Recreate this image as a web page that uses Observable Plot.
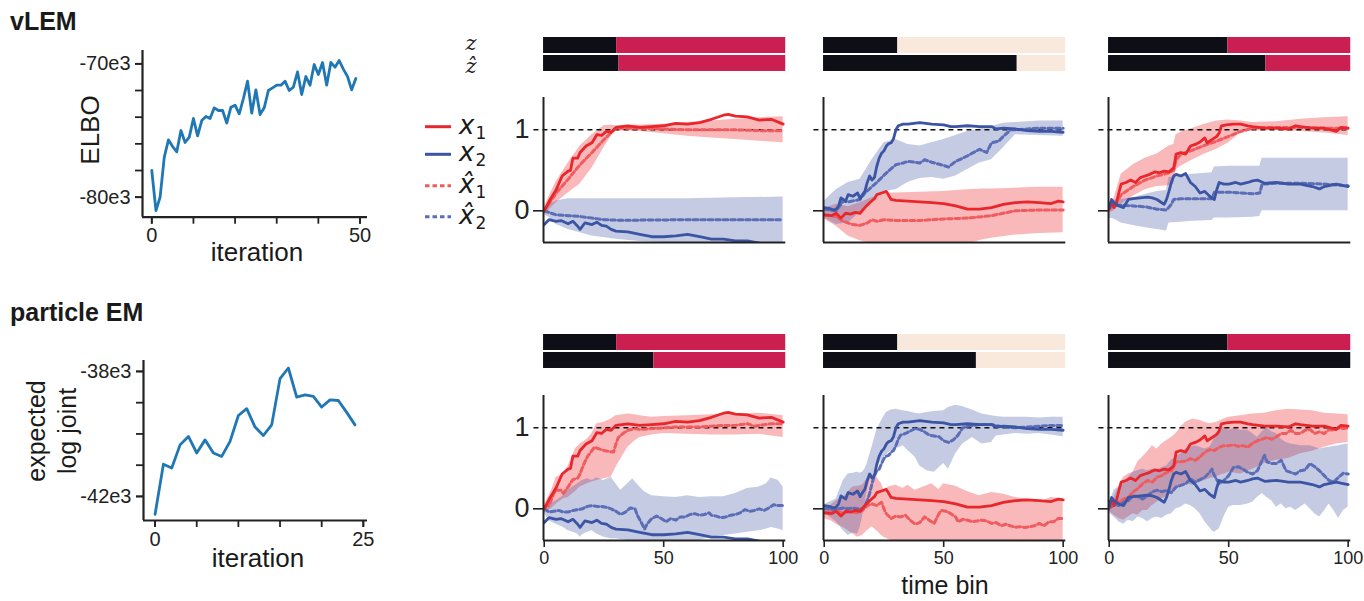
<!DOCTYPE html>
<html><head><meta charset="utf-8">
<script src="https://cdn.jsdelivr.net/npm/d3@7"></script>
<script src="https://cdn.jsdelivr.net/npm/@observablehq/plot@0.6"></script>
<style>
html,body{margin:0;padding:0;background:#fff;}
#fig{position:relative;width:1364px;height:601px;overflow:hidden;font-family:"Liberation Sans",Arial,sans-serif;color:#1a1a1a;}
.lbl{position:absolute;line-height:1;white-space:nowrap;}
</style></head><body><div id="fig"></div>
<script>
// ---------------- DATA ----------------
// left column: training curves
const elbo = [-78.0e3,-81.0e3,-80.0e3,-77.0e3,-75.7e3,-76.2e3,-76.6e3,-75.0e3,-75.9e3,-75.5e3,
  -74.1e3,-75.4e3,-74.25e3,-73.95e3,-74.1e3,-73.3e3,-73.5e3,-73.5e3,-74.45e3,-73.25e3,
  -73.1e3,-73.75e3,-72.6e3,-71.3e3,-73.7e3,-71.95e3,-73.8e3,-73.3e3,-72.0e3,-71.8e3,
  -71.6e3,-71.6e3,-71.3e3,-72.0e3,-71.75e3,-70.6e3,-72.3e3,-70.95e3,-71.6e3,-70.05e3,
  -70.8e3,-69.9e3,-71.6e3,-69.9e3,-70.25e3,-69.75e3,-70.4e3,-70.95e3,-71.95e3,-71.1e3];
const expLogJoint = [-42.57e3,-40.97e3,-41.09e3,-40.35e3,-40.08e3,-40.61e3,-40.19e3,-40.61e3,-40.72e3,-40.24e3,
  -39.41e3,-39.19e3,-39.78e3,-40.05e3,-39.71e3,-38.23e3,-37.89e3,-38.82e3,-38.75e3,-38.80e3,
  -39.14e3,-38.91e3,-38.93e3,-39.31e3,-39.71e3];
const elboYTicks = [-80e3,-78e3,-76e3,-74e3,-72e3,-70e3], elboYLabels = [-80e3,-70e3];
const elboXTicks = [0,10,20,30,40,50], elboXLabels = [0,50];
const pemYTicks = [-42e3,-41e3,-40e3,-39e3,-38e3], pemYLabels = [-42e3,-38e3];
const pemXTicks = [0,5,10,15,20,25], pemXLabels = [0,25];
const timeTicks = [0,50,100];
const valueTicks = [0,1];

// discrete states: time bin where state switches away from the first (black) state
const zTrue    = [30.3, 30.8, 49.7];
const zHatVlem = [31.3, 80.8, 65.6];
const zHatPem  = [45.9, 63.7, 101.1];

// true latents [t, value] (shared by both rows)
const trueX1_c1 = [[0,0],[2.5,0.14],[5,0.26],[7.5,0.43],[10,0.49],[11,0.50],[12,0.65],[14,0.65],[15,0.72],[17.5,0.80],[20,0.84],[22,0.94],[24,0.93],[26,0.98],[28,0.97],[30,1.03],[35,1.05],[40,1.03],[45,1.04],[50,1.05],[55,1.08],[60,1.07],[65,1.09],[70,1.13],[75,1.18],[77,1.19],[80,1.17],[85,1.16],[90,1.12],[95,1.13],[100,1.07]];
const trueX2_c1 = [[0,-0.17],[2,-0.11],[5,-0.13],[7,-0.12],[10,-0.16],[12,-0.13],[14,-0.19],[15,-0.23],[17,-0.15],[20,-0.17],[22,-0.14],[24,-0.18],[26,-0.19],[28,-0.23],[30,-0.25],[35,-0.26],[40,-0.29],[45,-0.32],[50,-0.32],[55,-0.31],[60,-0.29],[65,-0.32],[70,-0.35],[75,-0.35],[80,-0.37],[85,-0.37],[90,-0.40],[95,-0.42],[100,-0.44]];
const trueX1_c2 = [[0,-0.05],[3,-0.06],[5,-0.03],[7,-0.09],[9,-0.03],[11,-0.04],[13,-0.02],[15,-0.03],[17,0.04],[19,0.10],[21,0.15],[22,0.20],[24,0.22],[26,0.24],[28,0.14],[30,0.13],[35,0.12],[40,0.11],[45,0.10],[50,0.09],[55,0.06],[60,0.02],[65,0.02],[70,0.04],[75,0.08],[80,0.10],[85,0.11],[90,0.10],[95,0.09],[98,0.12],[100,0.11]];
const trueX2_c2 = [[0,0.04],[2,0.03],[4,0.01],[5,0.02],[6,0.06],[7,0.16],[9,0.12],[10,0.20],[12,0.18],[14,0.22],[15,0.15],[16,0.20],[17,0.24],[18,0.35],[19,0.43],[20,0.38],[21,0.41],[22,0.55],[23,0.65],[24,0.71],[25,0.74],[26,0.80],[27,0.83],[28,0.84],[29,0.89],[30,1.00],[31,1.05],[33,1.07],[35,1.07],[40,1.09],[45,1.07],[50,1.06],[53,1.04],[55,1.04],[60,1.05],[65,1.04],[70,1.04],[72,1.01],[75,1.02],[80,1.01],[85,0.99],[90,0.98],[95,0.98],[100,0.97]];
const trueX1_c3 = [[0,0.02],[1,0.12],[2,0.04],[3,0.10],[4,0.22],[5,0.33],[7,0.35],[9,0.38],[11,0.35],[13,0.41],[15,0.43],[17,0.45],[19,0.48],[21,0.47],[23,0.49],[25,0.48],[27,0.53],[28,0.70],[30,0.72],[32,0.70],[34,0.80],[36,0.82],[38,0.85],[40,0.90],[41,0.84],[43,0.88],[45,0.92],[46,0.96],[47,1.05],[49,1.06],[52,1.07],[55,1.07],[58,1.05],[60,1.04],[65,1.02],[70,1.02],[75,1.01],[78,1.05],[80,1.04],[85,1.02],[90,1.02],[95,0.98],[97,1.03],[100,1.02]];
const trueX2_c3 = [[0,0.04],[1,0.14],[2,0.10],[4,0.06],[6,0.04],[8,0.14],[10,0.15],[13,0.16],[16,0.17],[18,0.16],[20,0.14],[22,0.10],[23,0.08],[24,0.14],[25,0.24],[26,0.35],[27,0.43],[28,0.45],[30,0.43],[32,0.46],[34,0.35],[36,0.30],[38,0.22],[40,0.24],[42,0.18],[44,0.14],[45,0.26],[46,0.35],[48,0.33],[50,0.33],[53,0.35],[55,0.33],[58,0.35],[60,0.37],[62,0.38],[65,0.34],[70,0.35],[75,0.33],[80,0.33],[85,0.30],[88,0.27],[90,0.30],[95,0.33],[100,0.30]];

// vLEM estimates [t, value] and bands [t, lo, hi]
const vlemX1_c1 = [[0,0],[5,0.22],[10,0.39],[15,0.57],[20,0.72],[25,0.88],[30,1.02],[40,1.02],[50,1.01],[60,1.0],[70,1.0],[80,1.0],[90,0.99],[100,0.99]];
const vlemB1_c1 = [[0,-0.05,0.05],[5,0.10,0.36],[10,0.22,0.59],[15,0.33,0.80],[20,0.53,0.94],[25,0.78,1.05],[28,0.92,1.06],[30,0.99,1.05],[40,0.98,1.06],[50,0.95,1.07],[60,0.92,1.09],[70,0.90,1.11],[80,0.88,1.13],[90,0.86,1.15],[100,0.84,1.16]];
const vlemX2_c1 = [[0,0],[5,-0.05],[10,-0.06],[15,-0.07],[20,-0.09],[25,-0.11],[30,-0.115],[40,-0.115],[60,-0.11],[80,-0.11],[100,-0.11]];
const vlemB2_c1 = [[0,-0.05,0.04],[2,-0.08,0.07],[5,-0.17,0.12],[10,-0.23,0.15],[15,-0.27,0.15],[20,-0.31,0.15],[30,-0.35,0.15],[40,-0.38,0.15],[60,-0.40,0.15],[80,-0.41,0.16],[100,-0.42,0.17]];
const vlemX1_c2 = [[0,-0.05],[5,-0.07],[8,-0.13],[12,-0.17],[15,-0.18],[18,-0.15],[20,-0.11],[22,-0.13],[25,-0.11],[30,-0.12],[40,-0.12],[50,-0.10],[60,-0.09],[70,-0.06],[80,0],[90,0.01],[100,0.01]];
const vlemB1_c2 = [[0,-0.10,0.03],[5,-0.19,0.08],[10,-0.31,0.05],[15,-0.37,0.10],[20,-0.41,0.16],[25,-0.42,0.22],[30,-0.42,0.22],[40,-0.42,0.23],[50,-0.42,0.24],[60,-0.41,0.26],[66,-0.36,0.27],[70,-0.34,0.27],[80,-0.30,0.28],[90,-0.28,0.29],[100,-0.27,0.29]];
const vlemX2_c2 = [[0,0.02],[5,0.0],[8,0.12],[10,0.11],[15,0.14],[17,0.22],[20,0.30],[22,0.35],[25,0.44],[30,0.57],[33,0.59],[35,0.61],[38,0.60],[40,0.59],[42,0.63],[45,0.60],[50,0.56],[52,0.54],[55,0.61],[58,0.65],[60,0.68],[65,0.76],[68,0.72],[70,0.84],[73,0.86],[75,0.92],[78,1.0],[80,1.0],[85,1.01],[90,1.02],[95,1.02],[100,1.02]];
const vlemB2_c2 = [[0,-0.09,0.12],[5,-0.17,0.26],[10,-0.15,0.35],[15,-0.02,0.39],[20,0.14,0.63],[25,0.24,0.84],[30,0.26,0.88],[35,0.35,0.82],[40,0.40,0.80],[45,0.41,0.84],[50,0.39,0.88],[55,0.43,0.93],[60,0.51,0.98],[65,0.59,1.01],[70,0.63,1.04],[75,0.78,1.08],[80,0.94,1.09],[90,0.93,1.11],[100,0.92,1.11]];
const vlemX1_c3 = [[0,0.02],[3,0.10],[5,0.20],[10,0.30],[15,0.38],[20,0.43],[25,0.47],[27,0.50],[28,0.63],[30,0.70],[35,0.75],[40,0.81],[45,0.86],[50,0.92],[55,0.98],[60,1.02],[65,1.03],[70,1.03],[80,1.03],[90,1.02],[100,1.02]];
const vlemB1_c3 = [[0,-0.03,0.05],[2,0.0,0.15],[5,0.08,0.45],[10,0.18,0.57],[15,0.26,0.65],[20,0.30,0.70],[25,0.31,0.80],[27,0.33,0.82],[28,0.51,0.94],[30,0.55,0.97],[35,0.63,1.02],[40,0.70,1.07],[45,0.76,1.11],[50,0.84,1.12],[55,0.96,1.11],[60,0.99,1.09],[70,0.99,1.10],[80,0.98,1.13],[90,0.96,1.15],[100,0.93,1.16]];
const vlemX2_c3 = [[0,0.06],[5,0.07],[10,0.06],[15,0.05],[20,0.02],[24,0.01],[26,0.08],[27,0.14],[30,0.15],[35,0.15],[43,0.15],[44,0.23],[50,0.23],[55,0.22],[60,0.21],[63,0.22],[64,0.33],[70,0.34],[80,0.34],[90,0.33],[100,0.31]];
const vlemB2_c3 = [[0,-0.09,0.08],[2,-0.10,0.13],[5,-0.15,0.14],[10,-0.18,0.16],[15,-0.21,0.20],[20,-0.23,0.24],[24,-0.25,0.25],[25,-0.15,0.41],[30,-0.14,0.43],[35,-0.13,0.45],[43,-0.12,0.47],[44,-0.09,0.54],[50,-0.09,0.55],[60,-0.08,0.55],[63,-0.07,0.55],[64,0.0,0.65],[80,0.0,0.65],[100,0.0,0.65]];

// particle EM estimates
const pemX1_c1 = [[0,0.02],[2,0.04],[4,0.19],[5,0.23],[7,0.23],[8,0.19],[10,0.27],[12,0.36],[14,0.38],[15,0.43],[16,0.51],[17,0.58],[18,0.64],[20,0.72],[21,0.76],[23,0.74],[25,0.72],[27,0.71],[29,0.70],[30,0.80],[31,0.88],[33,0.93],[35,0.97],[38,0.99],[40,0.98],[45,0.99],[50,1.00],[55,1.01],[60,1.01],[65,1.01],[70,1.02],[75,1.03],[80,1.03],[85,1.05],[88,1.02],[90,1.03],[95,1.05],[100,1.05]];
const pemB1_c1 = [[0,-0.05,0.05],[3,0.0,0.22],[5,0.06,0.39],[8,0.12,0.43],[10,0.14,0.53],[13,0.21,0.74],[15,0.27,0.80],[18,0.31,0.86],[20,0.33,0.93],[22,0.35,1.05],[25,0.37,1.07],[28,0.39,1.11],[30,0.51,1.15],[33,0.66,1.16],[35,0.76,1.17],[38,0.84,1.16],[40,0.88,1.15],[45,0.91,1.13],[50,0.93,1.14],[60,0.92,1.15],[70,0.91,1.16],[80,0.91,1.17],[90,0.92,1.18],[100,0.88,1.15]];
const pemX2_c1 = [[0,0],[2,-0.04],[4,-0.03],[6,-0.02],[8,-0.04],[10,-0.04],[12,-0.02],[14,-0.01],[16,0],[18,0.03],[20,0.04],[22,0.03],[24,0.03],[26,0.02],[28,0],[30,-0.03],[32,-0.07],[34,-0.04],[36,0.01],[38,0],[39,-0.08],[41,-0.19],[42,-0.25],[43,-0.19],[45,-0.12],[47,-0.09],[49,-0.12],[51,-0.16],[53,-0.12],[55,-0.14],[57,-0.10],[59,-0.10],[61,-0.07],[63,-0.06],[65,-0.08],[67,-0.07],[69,-0.05],[70,-0.08],[72,-0.09],[74,-0.11],[76,-0.10],[78,-0.08],[80,-0.07],[82,-0.05],[84,-0.01],[86,-0.03],[88,-0.02],[90,0],[92,-0.02],[94,0.01],[96,0.05],[98,0.04],[100,0.04]];
const pemB2_c1 = [[0,-0.05,0.03],[2,-0.15,0.05],[5,-0.19,0.10],[8,-0.23,0.16],[10,-0.27,0.23],[12,-0.29,0.27],[14,-0.31,0.31],[15,-0.35,0.33],[16,-0.32,0.35],[18,-0.29,0.37],[20,-0.27,0.35],[22,-0.31,0.38],[25,-0.35,0.35],[28,-0.37,0.39],[30,-0.37,0.31],[32,-0.38,0.23],[35,-0.39,0.31],[37,-0.39,0.37],[40,-0.39,0.27],[42,-0.40,0.21],[45,-0.41,0.16],[50,-0.41,0.15],[55,-0.39,0.14],[60,-0.41,0.16],[65,-0.39,0.14],[70,-0.35,0.15],[75,-0.33,0.15],[80,-0.31,0.19],[85,-0.29,0.25],[90,-0.27,0.27],[93,-0.25,0.31],[95,-0.23,0.38],[98,-0.25,0.35],[100,-0.27,0.27]];
const pemX1_c2 = [[0,-0.05],[3,-0.03],[5,-0.02],[8,-0.06],[10,-0.03],[12,-0.04],[14,-0.05],[16,-0.02],[18,0.04],[20,0.06],[22,0.04],[24,0.08],[25,0.0],[26,-0.06],[28,-0.12],[30,-0.09],[32,-0.10],[34,-0.08],[36,-0.14],[38,-0.19],[40,-0.17],[42,-0.10],[44,-0.14],[46,-0.18],[48,-0.06],[49,-0.02],[51,-0.03],[53,-0.06],[55,-0.10],[56,-0.16],[58,-0.13],[60,-0.14],[62,-0.16],[64,-0.15],[66,-0.14],[68,-0.15],[70,-0.18],[72,-0.17],[74,-0.21],[76,-0.19],[78,-0.21],[80,-0.23],[82,-0.22],[84,-0.23],[86,-0.22],[88,-0.21],[90,-0.18],[92,-0.21],[94,-0.16],[96,-0.16],[98,-0.12],[100,-0.12]];
const pemB1_c2 = [[0,-0.12,0.0],[3,-0.15,0.05],[5,-0.19,0.10],[8,-0.23,0.14],[10,-0.27,0.21],[12,-0.31,0.27],[14,-0.35,0.28],[16,-0.33,0.29],[18,-0.27,0.37],[20,-0.22,0.43],[22,-0.27,0.39],[24,-0.33,0.31],[25,-0.35,0.23],[27,-0.38,0.27],[28,-0.39,0.28],[30,-0.41,0.29],[33,-0.42,0.25],[35,-0.42,0.29],[38,-0.42,0.23],[40,-0.42,0.25],[45,-0.42,0.31],[48,-0.42,0.24],[50,-0.42,0.31],[55,-0.42,0.28],[60,-0.42,0.21],[65,-0.42,0.16],[70,-0.42,0.20],[75,-0.42,0.18],[80,-0.42,0.14],[85,-0.42,0.12],[90,-0.42,0.08],[95,-0.42,0.14],[100,-0.42,0.12]];
const pemX2_c2 = [[0,0],[2,0],[4,-0.01],[6,0],[8,0.01],[10,0],[12,0.01],[14,0],[16,0],[17,0.04],[18,0.10],[19,0.19],[20,0.31],[21,0.41],[22,0.47],[23,0.49],[24,0.56],[25,0.62],[26,0.65],[27,0.66],[28,0.70],[29,0.72],[30,0.78],[31,0.86],[32,0.91],[34,0.93],[36,0.96],[38,0.99],[40,0.98],[42,0.95],[44,0.91],[46,0.90],[48,0.89],[50,0.84],[52,0.82],[54,0.85],[56,0.91],[58,1.0],[60,1.02],[65,1.04],[70,1.04],[75,1.01],[80,1.0],[85,1.01],[90,1.02],[95,1.03],[100,1.03]];
const pemB2_c2 = [[0,-0.05,0.05],[5,-0.16,0.12],[8,-0.27,0.35],[10,-0.33,0.43],[12,-0.30,0.44],[14,-0.31,0.45],[15,-0.23,0.44],[16,-0.10,0.45],[17,0.05,0.49],[18,0.23,0.56],[19,0.35,0.66],[20,0.39,0.76],[22,0.51,0.97],[24,0.60,1.09],[26,0.66,1.19],[28,0.72,1.22],[30,0.74,1.23],[33,0.78,1.21],[35,0.72,1.20],[38,0.64,1.18],[40,0.53,1.17],[43,0.47,1.19],[46,0.45,1.20],[50,0.56,1.21],[52,0.49,1.25],[55,0.68,1.28],[58,0.80,1.26],[62,0.88,1.22],[66,0.80,1.17],[70,0.82,1.15],[72,0.90,1.14],[75,0.91,1.13],[80,0.93,1.13],[85,0.92,1.13],[90,0.93,1.12],[95,0.91,1.13],[100,0.89,1.13]];
const pemX1_c3 = [[0,0.01],[2,0.04],[4,0.08],[6,0.12],[8,0.14],[10,0.21],[12,0.25],[14,0.31],[16,0.35],[18,0.33],[20,0.39],[22,0.41],[24,0.45],[26,0.47],[27,0.52],[28,0.58],[30,0.58],[32,0.59],[34,0.62],[36,0.60],[38,0.64],[40,0.70],[42,0.73],[44,0.72],[46,0.76],[48,0.78],[50,0.78],[52,0.79],[54,0.77],[56,0.78],[58,0.76],[60,0.81],[62,0.84],[64,0.86],[66,0.88],[68,0.86],[70,0.89],[72,0.93],[74,0.93],[76,0.97],[78,0.93],[80,0.93],[82,0.97],[84,0.98],[86,0.93],[88,0.95],[90,0.93],[92,0.98],[94,0.97],[96,1.0],[98,0.99],[100,1.0]];
const pemB1_c3 = [[0,-0.03,0.05],[2,-0.08,0.14],[4,-0.12,0.27],[6,-0.14,0.39],[8,-0.10,0.43],[10,-0.06,0.45],[12,-0.08,0.58],[14,-0.02,0.64],[16,-0.02,0.70],[18,0.04,0.78],[20,0.08,0.74],[22,0.12,0.80],[24,0.15,0.84],[26,0.19,0.88],[28,0.25,0.93],[30,0.27,1.01],[32,0.31,1.07],[35,0.29,1.11],[38,0.33,1.09],[40,0.35,1.07],[42,0.37,1.05],[45,0.40,1.07],[48,0.43,1.11],[50,0.45,1.13],[55,0.43,1.15],[60,0.49,1.17],[65,0.56,1.18],[70,0.60,1.21],[75,0.62,1.23],[80,0.68,1.22],[85,0.71,1.21],[90,0.76,1.18],[95,0.80,1.17],[100,0.82,1.16]];
const pemX2_c3 = [[0,0.01],[2,0.06],[4,0.04],[6,0.08],[8,0.10],[10,0.16],[12,0.15],[14,0.12],[16,0.16],[18,0.21],[20,0.23],[22,0.21],[24,0.23],[26,0.20],[28,0.27],[30,0.29],[32,0.31],[34,0.37],[36,0.33],[38,0.36],[40,0.39],[42,0.45],[43,0.49],[44,0.41],[46,0.31],[48,0.35],[50,0.41],[52,0.51],[54,0.52],[56,0.49],[58,0.45],[60,0.43],[62,0.47],[64,0.60],[65,0.66],[66,0.58],[68,0.56],[70,0.56],[72,0.60],[74,0.47],[76,0.45],[78,0.43],[80,0.47],[82,0.48],[84,0.56],[86,0.52],[88,0.47],[90,0.41],[92,0.35],[94,0.33],[96,0.39],[98,0.44],[100,0.43]];
const pemB2_c3 = [[0,-0.05,0.05],[2,-0.10,0.23],[4,-0.16,0.27],[6,-0.19,0.31],[8,-0.14,0.39],[10,-0.16,0.45],[12,-0.10,0.47],[14,-0.12,0.49],[16,-0.16,0.47],[18,-0.12,0.49],[20,-0.10,0.47],[22,-0.12,0.51],[24,-0.08,0.53],[26,-0.06,0.60],[28,0.0,0.64],[30,0.02,0.68],[32,0.06,0.74],[34,0.04,0.76],[36,0.0,0.78],[38,-0.06,0.76],[40,-0.16,0.74],[42,-0.23,0.76],[43,-0.27,0.80],[44,-0.29,0.88],[46,-0.25,0.99],[48,-0.10,1.0],[50,0.02,0.97],[52,0.04,0.99],[55,0.04,0.97],[58,0.06,0.97],[60,0.08,0.93],[62,0.14,0.88],[64,0.19,0.95],[66,0.14,1.0],[68,0.10,0.95],[70,0.02,0.93],[72,0.06,0.86],[74,0.0,0.82],[76,0.02,0.80],[78,-0.02,0.79],[80,0.02,0.78],[82,0.06,0.78],[84,0.0,0.78],[86,-0.06,0.76],[88,-0.10,0.74],[90,-0.03,0.75],[92,0.06,0.76],[94,-0.02,0.77],[96,-0.12,0.78],[98,-0.02,0.79],[100,0.02,0.80]];

// ---------------- STYLE / LAYOUT ----------------
const BLACK="#0e0e17", CRIMSON="#cc1f51", BEIGE="#f9e9dc";
const RED="#e8262c", BLUE="#3b54a4", RED_D="#ef5b5f", BLUE_D="#5b6db6";
const RED_BAND="#ee3b3f", BLUE_BAND="#3f58a6";
const AFTER = [CRIMSON, BEIGE, CRIMSON];
const SANS = "'Liberation Sans', Arial, sans-serif";
const X_DOMAIN = [-0.3, 101.1], Y_DOMAIN = [-0.391, 1.399];
const COL_LEFT = [542.6, 823.2, 1107.6], PANEL_W = 242.3, PANEL_H = 145;
const ROW_TOP = [96.7, 395], BAR_TOP = [36.7, 334], BAR_H = 35;
const AX = "#222";
const DASH = "4.5,3";

const fig = document.getElementById("fig");
function place(el, left, top) {
  el.style.position = "absolute"; el.style.left = left + "px"; el.style.top = top + "px";
  fig.appendChild(el);
}
const baseStyle = {background: "transparent", fontFamily: SANS, color: AX, overflow: "visible"};

function label(html, x, y, {size = 25, weight = "normal", family = SANS, anchor = "middle", rotate = 0, italic = false, lh = 0.8, align = "center"} = {}) {
  const d = document.createElement("div");
  d.className = "lbl";
  d.innerHTML = html;
  Object.assign(d.style, {fontSize: size + "px", fontWeight: weight, fontFamily: family,
    fontStyle: italic ? "italic" : "normal", lineHeight: typeof lh === "number" ? String(lh) : lh, textAlign: align,
    left: x + "px", top: y + "px", color: "#1a1a1a"});
  const tx = anchor === "middle" ? "-50%" : anchor === "end" ? "-100%" : "0";
  d.style.transform = `translate(${tx},-50%)` + (rotate ? ` rotate(${rotate}deg)` : "");
  fig.appendChild(d);
}

// ---------------- LEFT CURVES ----------------
function curvePanel(values, frame, xDomain, yDomain, yTicks, yLabels, xTicks, xLabels) {
  const [x0, y0, x1, y1] = frame;
  const ml = 90, mr = 10, mt = 5, mb = 40;
  const fmt = d => `${Math.round(d / 1000)}e3`;
  const p = Plot.plot({
    width: (x1 - x0) + ml + mr, height: (y1 - y0) + mt + mb,
    marginLeft: ml, marginRight: mr, marginTop: mt, marginBottom: mb,
    style: {...baseStyle, fontSize: "20px"},
    x: {domain: xDomain, axis: null, label: null},
    y: {domain: yDomain, axis: null, label: null},
    marks: [
      Plot.axisY({ticks: yTicks, tickSize: 7, tickFormat: () => "", label: null, strokeWidth: 1.8}),
      Plot.axisY({ticks: yLabels, tickSize: 7, tickPadding: 5, tickFormat: fmt, label: null, fontSize: 20, strokeWidth: 1.8}),
      Plot.axisX({ticks: xTicks, tickSize: 7, tickFormat: () => "", label: null, strokeWidth: 1.8}),
      Plot.axisX({ticks: xLabels, tickSize: 7, tickPadding: 4, tickFormat: d => String(d), label: null, fontSize: 20, strokeWidth: 1.8}),
      Plot.ruleX([xDomain[0]], {stroke: AX, strokeWidth: 2.2}),
      Plot.ruleY([yDomain[0]], {stroke: AX, strokeWidth: 2.2}),
      Plot.line(values, {x: (d, i) => i, y: d => d, stroke: "#1f77b4", strokeWidth: 2.8})
    ]
  });
  place(p, x0 - ml, y0 - mt);
}
curvePanel(elbo, [141.7, 50, 366.7, 216.7], [-2.23, 51.8], [-81.5e3, -69.0e3], elboYTicks, elboYLabels, elboXTicks, elboXLabels);
curvePanel(expLogJoint, [142.7, 360, 366.7, 520], [-1.39, 25.5], [-42.77e3, -37.65e3], pemYTicks, pemYLabels, pemXTicks, pemXLabels);

// ---------------- STATE BARS ----------------
function barPanel(c, r, zc, zhc) {
  const ml = 10, mr = 10;
  const segs = [
    {row: "z", x1: X_DOMAIN[0], x2: Math.min(zc, X_DOMAIN[1]), fill: BLACK},
    {row: "z", x1: zc, x2: X_DOMAIN[1], fill: AFTER[c]},
    {row: "zh", x1: X_DOMAIN[0], x2: Math.min(zhc, X_DOMAIN[1]), fill: BLACK},
    {row: "zh", x1: zhc, x2: X_DOMAIN[1], fill: AFTER[c]}
  ].filter(s => s.x2 > s.x1);
  const p = Plot.plot({
    width: PANEL_W + ml + mr, height: BAR_H, marginLeft: ml, marginRight: mr, marginTop: 0, marginBottom: 0,
    style: baseStyle,
    x: {domain: X_DOMAIN, axis: null}, y: {domain: ["z", "zh"], axis: null, paddingInner: 0.1, paddingOuter: 0},
    color: {type: "identity"},
    marks: [Plot.barX(segs, {x1: "x1", x2: "x2", y: "row", fill: "fill", insetTop: 0, insetBottom: 0})]
  });
  place(p, COL_LEFT[c] - ml, BAR_TOP[r]);
}

// ---------------- TIME SERIES PANELS ----------------
function tsPanel(c, r, s) {
  const ml = 50, mr = 10, mt = 6, mb = 40;
  const xy = {x: d => d[0], y: d => d[1]};
  const band = {x: d => d[0], y1: d => d[1], y2: d => d[2]};
  const marks = [
    Plot.areaY(s.b1, {...band, fill: RED_BAND, fillOpacity: 0.36, clip: true}),
    Plot.areaY(s.b2, {...band, fill: BLUE_BAND, fillOpacity: 0.31, clip: true}),
    Plot.ruleY([1], {x1: -4.3, x2: X_DOMAIN[1], stroke: "#111", strokeWidth: 1.4, strokeDasharray: "5,4"}),
    Plot.line(s.h1, {...xy, stroke: RED_D, strokeWidth: 3, strokeDasharray: DASH, clip: true}),
    Plot.line(s.h2, {...xy, stroke: BLUE_D, strokeWidth: 3, strokeDasharray: DASH, clip: true}),
    Plot.line(s.t1, {...xy, stroke: RED, strokeWidth: 2.8, clip: true}),
    Plot.line(s.t2, {...xy, stroke: BLUE, strokeWidth: 2.8, clip: true}),
    Plot.axisY({ticks: [valueTicks[0]], tickSize: 10, tickFormat: () => "", label: null, strokeWidth: 1.6}),
    Plot.ruleX([X_DOMAIN[0]], {stroke: AX, strokeWidth: 2}),
    Plot.ruleY([Y_DOMAIN[0]], {stroke: AX, strokeWidth: 2})
  ];
  if (c === 0) marks.push(Plot.axisY({ticks: valueTicks, tickSize: 0, tickPadding: 14, fontSize: 27, tickFormat: d => String(d), label: null}));
  if (r === 1) marks.push(Plot.axisX({ticks: timeTicks, tickSize: 7, tickPadding: 4, fontSize: 18, tickFormat: d => String(d), label: null, strokeWidth: 1.6}));
  const p = Plot.plot({
    width: PANEL_W + ml + mr, height: PANEL_H + mt + mb,
    marginLeft: ml, marginRight: mr, marginTop: mt, marginBottom: mb,
    style: {...baseStyle, fontSize: "18px"},
    x: {domain: X_DOMAIN, axis: null, label: null},
    y: {domain: Y_DOMAIN, axis: null, label: null},
    marks
  });
  place(p, COL_LEFT[c] - ml, ROW_TOP[r] - mt);
}

const truth = [[trueX1_c1, trueX2_c1], [trueX1_c2, trueX2_c2], [trueX1_c3, trueX2_c3]];
const vlem = [[vlemX1_c1, vlemB1_c1, vlemX2_c1, vlemB2_c1], [vlemX1_c2, vlemB1_c2, vlemX2_c2, vlemB2_c2], [vlemX1_c3, vlemB1_c3, vlemX2_c3, vlemB2_c3]];
const pem = [[pemX1_c1, pemB1_c1, pemX2_c1, pemB2_c1], [pemX1_c2, pemB1_c2, pemX2_c2, pemB2_c2], [pemX1_c3, pemB1_c3, pemX2_c3, pemB2_c3]];
[vlem, pem].forEach((est, r) => {
  est.forEach((e, c) => {
    barPanel(c, r, zTrue[c], (r === 0 ? zHatVlem : zHatPem)[c]);
    tsPanel(c, r, {t1: truth[c][0], t2: truth[c][1], h1: e[0], b1: e[1], h2: e[2], b2: e[3]});
  });
});

// ---------------- TEXT ----------------
label("vLEM", 10, 20.5, {size: 25, weight: "bold", anchor: "start"});
label("particle EM", 10, 311.5, {size: 25, weight: "bold", anchor: "start"});
label("ELBO", 90, 130, {size: 26, rotate: -90});
label("expected<br>log joint", 52, 431, {size: 25, rotate: -90, lh: "31px"});
label("iteration", 257, 252, {size: 26});
label("iteration", 258, 558, {size: 26});
label("time bin", 945, 585, {size: 25});
label("<i>z</i>", 471, 43, {size: 21, family: "'DejaVu Serif', serif"});
label("<i>ẑ</i>", 471, 66, {size: 21, family: "'DejaVu Serif', serif"});

// legend (SVG: line samples + math-style labels)
const LEGEND = [
  {sub: "1", hat: false, color: RED, dash: null},
  {sub: "2", hat: false, color: BLUE, dash: null},
  {sub: "1", hat: true, color: RED_D, dash: DASH},
  {sub: "2", hat: true, color: BLUE_D, dash: DASH}
];
const LEG_Y = [126.7, 154.3, 185.7, 216.7];
const ns = "http://www.w3.org/2000/svg";
const legSvg = document.createElementNS(ns, "svg");
legSvg.setAttribute("width", 90); legSvg.setAttribute("height", 140);
legSvg.style.overflow = "visible";
LEGEND.forEach((e, i) => {
  const yy = LEG_Y[i] - 110;
  const ln = document.createElementNS(ns, "line");
  ln.setAttribute("x1", 5); ln.setAttribute("x2", 31);
  ln.setAttribute("y1", yy); ln.setAttribute("y2", yy);
  ln.setAttribute("stroke", e.color); ln.setAttribute("stroke-width", 3);
  if (e.dash) ln.setAttribute("stroke-dasharray", e.dash);
  legSvg.appendChild(ln);
  const t = document.createElementNS(ns, "text");
  t.setAttribute("x", 39); t.setAttribute("y", yy + 7);
  t.setAttribute("font-family", "'DejaVu Sans', sans-serif"); t.setAttribute("font-size", 26);
  t.setAttribute("fill", "#1a1a1a");
  const s1 = document.createElementNS(ns, "tspan");
  s1.setAttribute("font-style", "italic"); s1.textContent = e.hat ? "x\u0302" : "x";
  const s2 = document.createElementNS(ns, "tspan");
  s2.setAttribute("font-size", 17); s2.setAttribute("dy", 5); s2.setAttribute("dx", 1); s2.textContent = e.sub;
  t.appendChild(s1); t.appendChild(s2);
  legSvg.appendChild(t);
});
place(legSvg, 420, 110);
</script></body></html>
